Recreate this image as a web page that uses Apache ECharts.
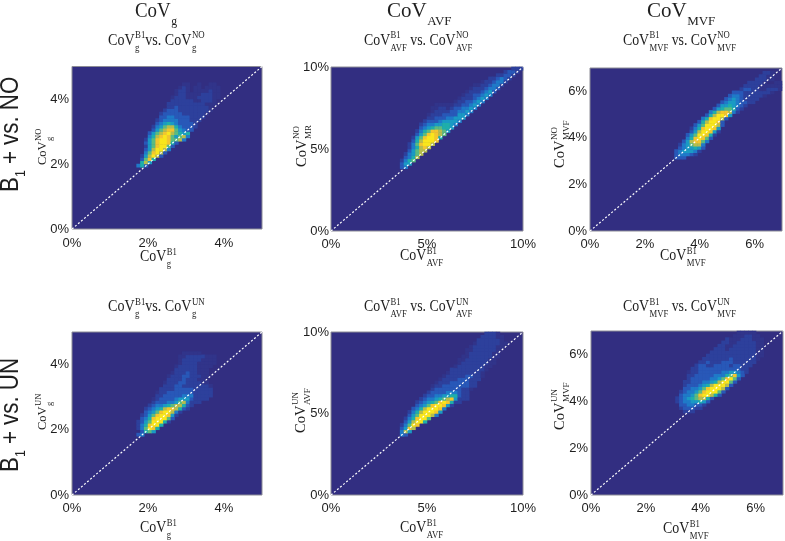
<!DOCTYPE html>
<html>
<head>
<meta charset="utf-8">
<style>html,body{margin:0;padding:0;background:#fff}#c{width:785px;height:541px}</style>
<script src="https://cdn.jsdelivr.net/npm/echarts@6/dist/echarts.min.js"></script>
</head>
<body>
<div id="c"></div>
<script>
// Density estimates. Each row: [y bin, first x bin, density values 0-10]. 50 x 50 bins per panel.
const gNoRows = [
[19,17,[4,6,3]],[20,18,[6,8,5]],[21,18,[3,7,9,6]],[22,18,[2,5,8,10,8,3]],[23,19,[4,7,9,10,8,3]],
[24,19,[3,5,8,10,10,8,4]],[25,19,[2,5,7,9,10,10,7,3]],[26,19,[3,5,7,9,10,10,9,6,3]],
[27,19,[2,5,7,9,10,10,9,7,7,8,4]],[28,20,[4,6,8,9,10,9,7,5,7,8,4]],[29,20,[3,5,7,8,9,10,8,7,6,5,6]],
[30,21,[3,5,7,8,9,9,7,5,4,3,3]],[31,21,[2,4,5,7,8,8,6,4,3,3,3,2]],[32,22,[3,4,5,6,5,4,3,3,3,3,2]],
[33,22,[2,3,4,4,4,4,3,3,3,2,2,2]],[34,23,[3,3,4,4,3,3,3,3,2,2,2,2]],[35,23,[2,3,3,3,3,3,2,2,2,2,2,2,1]],
[36,24,[2,3,3,3,2,2,2,2,2,2,2,2,1]],[37,25,[2,2,3,2,2,2,2,2,2,2,2,1]],[38,25,[2,2,2,2,2,2,2,2,2,2,1,1,1]],
[39,26,[2,2,2,2,2,2,1,1,2,2,2,1]],[40,26,[1,2,2,2,1,1,1,2,2,2,2,1,1]],[41,27,[1,2,2,1,1,1,1,2,2,2,1,1]],
[42,27,[1,2,2,1,0,1,1,1,1,2,1,1]],[43,28,[1,2,1,0,1,1,0,1,1,1,1]],[44,29,[1,1,0,0,1,0,0,1,1]]
];
const avfNoRows = [
[19,18,[3,4]],[20,18,[3,5,5]],[21,18,[2,4,6,7]],[22,19,[3,4,6,8]],[23,19,[2,4,5,7,8]],[24,20,[3,5,7,8,8]],
[25,20,[2,4,6,8,9,8]],[26,20,[2,4,7,9,10,10,8]],[27,21,[3,6,8,10,10,10,9]],[28,21,[2,5,7,9,10,10,9,6]],
[29,22,[3,5,7,9,10,9,8,7]],[30,22,[2,4,6,7,9,9,8,7,5]],[31,23,[3,4,5,6,7,7,6,6,5]],[32,23,[2,3,4,4,5,5,6,6,5,4]],
[33,24,[2,3,3,3,4,5,5,5,5,4]],[34,25,[2,2,3,3,3,4,4,5,5,5]],[35,25,[1,2,2,2,3,3,3,3,5,5,4]],
[36,26,[1,2,2,2,2,3,3,4,4,5,4]],[37,26,[1,1,2,2,1,2,3,3,4,4,5,4]],[38,27,[1,1,1,1,1,2,2,3,3,4,5,4]],
[39,32,[1,2,2,3,3,4,5,4]],[40,33,[1,2,2,2,3,4,5,4]],[41,34,[1,2,2,3,3,4,5,4]],[42,35,[1,2,2,2,3,4,5,3]],
[43,36,[1,2,2,2,3,4,4,3]],[44,37,[1,1,2,2,3,4,4,2]],[45,39,[1,2,2,3,4,4,2]],[46,41,[2,2,3,4,3,2]],
[47,43,[2,2,3,3,2]],[48,45,[2,3,3,2]],[49,47,[2,2,2]]
];
const mvfNoRows = [
[22,22,[3,3,3]],[23,22,[3,4,4,4,3,2]],[24,22,[3,4,5,5,5,4,2]],[25,23,[3,4,5,5,6,5,3]],[26,23,[2,4,5,7,8,8,4]],
[27,24,[3,5,8,9,9,7,4]],[28,25,[4,6,9,10,9,7,3]],[29,25,[3,5,7,10,10,9,6,2]],[30,26,[3,5,8,10,10,9,5,2]],
[31,26,[2,4,6,9,10,10,9,5]],[32,27,[3,5,7,10,10,10,8,3]],[33,28,[3,6,8,10,10,9,3]],[34,29,[4,6,9,10,10,8,3]],
[35,30,[3,6,8,10,10,9,5]],[36,31,[4,6,8,9,9,8,4,2]],[37,32,[3,5,6,7,7,6,3,2]],[38,33,[3,5,5,6,5,4,3,2]],
[39,34,[3,4,5,5,4,3,3,2,2]],[40,35,[3,4,5,4,3,2,2,2,2]],[41,36,[3,4,4,3,2,2,2,2,2,1]],
[42,37,[3,3,3,2,2,2,2,2,2,2,1]],[43,39,[2,3,3,2,2,1,1,2,2,2,1]],[44,40,[2,2,2,2,1,1,1,1,1,1]],
[45,41,[2,2,2,2,1,0,0,1,1]],[46,43,[2,2,2,1,1]],[47,44,[2,2,1,1]],[48,45,[2,2,1]]
];
const gUnRows = [
[18,17,[3,4]],[19,18,[3,6,7,5]],[20,17,[2,4,7,10,9,6]],[21,17,[2,4,6,9,10,10,6]],[22,17,[2,3,5,7,10,10,10,6,2]],
[23,18,[3,4,6,9,10,10,10,7,3]],[24,18,[2,3,5,7,9,10,10,9,5,2]],[25,19,[3,4,5,7,9,10,10,8,4,2]],
[26,19,[2,3,4,5,6,8,9,9,8,6,3,2]],[27,20,[2,3,4,4,5,6,7,8,8,6,3,2]],[28,21,[2,3,3,3,4,4,5,7,8,4,2,2,2]],
[29,21,[1,2,3,3,3,3,4,5,5,5,3,2,2,2,2]],[30,22,[2,2,3,3,3,3,3,4,4,4,2,2,2,2,2]],[31,22,[1,2,2,3,3,3,3,3,3,3,2,2,2,2,2]],
[32,23,[2,2,2,2,3,3,3,3,3,2,2,2,2,2]],[33,24,[2,2,2,3,3,2,2,2,2,2,2,2,1]],[34,24,[1,2,2,2,3,3,2,2,2,2,1,1]],
[35,25,[2,2,2,2,3,2,2,2,1,1]],[36,25,[1,2,2,2,3,3,2,2,2,1,1]],[37,26,[1,2,2,2,3,2,2,1,1,1]],[38,27,[2,2,2,2,2,2,1,1,1]],
[39,27,[1,2,2,2,2,2,1,1,1,1]],[40,28,[1,2,2,2,2,1,1,1,1,1]],[41,28,[1,2,2,2,2,2,1,1,1,1]],[42,28,[1,1,2,2,2,2,2,1,1,1]],
[43,29,[1,1,1,1,1]]
];
const avfUnRows = [
[18,18,[4,3]],[19,18,[4,8,5]],[20,18,[3,5,9,8]],[21,18,[2,4,7,10,9]],[22,19,[3,5,8,10,10,6]],[23,19,[2,4,6,9,10,10,7]],
[24,20,[3,5,7,10,10,10,8,4]],[25,20,[2,4,6,8,10,10,10,9,5]],[26,21,[3,4,6,8,10,10,10,9,4]],[27,22,[3,4,5,7,9,10,10,9,5,2]],
[28,22,[2,3,4,5,6,7,9,10,9,6,2,2]],[29,23,[2,3,4,4,5,6,7,8,9,5,2,2,2]],[30,24,[2,3,3,4,4,5,5,6,6,3,2,2]],
[31,25,[2,3,3,3,3,4,4,4,3,2,2]],[32,26,[2,3,3,3,3,3,3,3,2,2,1]],[33,26,[1,2,2,3,3,3,3,3,3,3,2,2]],[34,27,[1,2,2,2,3,3,3,3,3,2,2]],
[35,28,[1,2,2,2,2,3,3,3,2,2,2]],[36,29,[1,2,2,2,2,2,3,3,2,2,1]],[37,30,[1,2,2,2,2,2,2,2,2,1]],[38,31,[2,2,2,2,2,2,2,2,2,1]],
[39,32,[1,2,2,2,2,2,2,2,1,1]],[40,33,[1,2,2,2,2,2,2,2,1,1]],[41,33,[1,1,2,2,2,2,2,2,1,1]],[42,34,[1,1,2,2,2,2,2,2,1,1]],
[43,35,[1,2,2,2,2,2,2,1,1]],[44,35,[1,1,2,2,2,2,2,2,1]],[45,36,[1,2,2,2,2,2,2,1,1]],[46,37,[1,2,2,2,2,2,2,1,1]],
[47,38,[2,2,2,2,2,2,1]],[48,39,[2,2,2,2,1,1]],[49,40,[2,2,2,1]]
];
const mvfUnRows = [
[25,24,[2,2,2]],[26,23,[2,3,3,3,2,2]],[27,23,[3,3,4,4,3,3,2]],[28,22,[2,3,4,4,5,5,6,5,3]],[29,22,[2,3,4,5,6,7,8,8,6,3]],
[30,23,[3,4,4,5,7,9,10,10,8,6,3]],[31,23,[2,3,4,4,5,7,9,10,10,10,7,3]],[32,24,[3,3,4,4,5,7,9,10,10,10,8,3]],
[33,24,[2,3,3,3,4,5,6,8,10,10,10,8,3]],[34,24,[2,2,3,3,3,4,4,5,6,8,10,10,7,3]],[35,25,[2,3,3,3,3,3,4,4,5,7,9,10,7,3]],
[36,25,[2,2,3,3,3,3,3,4,4,4,6,7,9,5,3]],[37,25,[1,2,2,3,3,3,3,3,3,4,4,5,5,4,3,2]],[38,26,[2,2,3,3,3,3,3,3,3,3,3,3,3,2,2]],
[39,27,[2,3,3,2,2,3,3,3,3,2,3,3,2,2,2]],[40,28,[2,2,3,2,2,2,3,3,3,2,2,2,2,2,2]],[41,29,[2,2,2,2,2,2,2,3,2,2,2,2,2,2,1]],
[42,30,[2,2,2,2,2,2,2,2,2,2,2,2,2,1,1]],[43,31,[2,2,2,2,2,2,2,2,2,2,2,2,1,1]],[44,32,[2,2,2,1,2,2,2,2,2,2,2,1,1]],
[45,33,[2,2,1,1,2,2,2,2,2,2,1,1]],[46,34,[2,2,1,1,2,2,2,2,2,1,1]],[47,35,[2,1,1,1,2,2,2,1,1,1]],[48,37,[1,1,1,2,2,1,1]],[49,38,[1,1,1,1,1]]
];
const ticksG = [0,2,4];
const ticksAvf = [0,5,10];
const ticksMvf = [0,2,4,6];

const FONT_SERIF = '"Liberation Serif", serif';
const FONT_SANS = '"Liberation Sans", Arial, sans-serif';
const INK = '#1f1f1f';
const PARULA = ['#322e81','#31348a','#2d409c','#2858b8','#1f7ac8','#1a9ac4','#1faeaa','#5cbb80','#b5bd4e','#f2c62e','#f9e61c'];
const binIndex = Array.from({length:50},(_,i)=>i);

const panels = [
  {rows:gNoRows,  max:5, ticks:ticksG,  left:72, top:66.5,w:190,h:162.5,mx:8,my:3},
  {rows:avfNoRows,max:10,ticks:ticksAvf,left:331,top:67,w:192,h:164,mx:7,my:2},
  {rows:mvfNoRows,max:7, ticks:ticksMvf,left:590,top:68,w:192,h:163,mx:7,my:3},
  {rows:gUnRows,  max:5, ticks:ticksG,  left:72, top:332,w:190,h:163,mx:7,my:3},
  {rows:avfUnRows,max:10,ticks:ticksAvf,left:331,top:332,w:192,h:163,mx:7,my:2},
  {rows:mvfUnRows,max:7, ticks:ticksMvf,left:591,top:331,w:192,h:164,mx:7,my:3}
];

const grid=[],xAxis=[],yAxis=[],series=[],lines=[];
panels.forEach((p,i)=>{
  grid.push({left:p.left,top:p.top,width:p.w,height:p.h,show:true,backgroundColor:PARULA[0],borderColor:'#8c8c96',borderWidth:1,containLabel:false});
  const hide={show:false};
  xAxis.push({type:'category',gridIndex:i,data:binIndex,axisLabel:hide,axisLine:hide,axisTick:hide,splitLine:hide});
  yAxis.push({type:'category',gridIndex:i,data:binIndex,axisLabel:hide,axisLine:hide,axisTick:hide,splitLine:hide});
  const fmt=v=>v+'%';
  const lab=m=>({fontSize:13,fontFamily:FONT_SANS,color:INK,margin:m,formatter:fmt,customValues:p.ticks,hideOverlap:false});
  xAxis.push({type:'value',gridIndex:i,min:0,max:p.max,position:'bottom',axisLine:hide,axisTick:hide,splitLine:hide,axisLabel:lab(p.mx)});
  yAxis.push({type:'value',gridIndex:i,min:0,max:p.max,position:'left',axisLine:hide,axisTick:hide,splitLine:hide,axisLabel:lab(p.my)});
  const cells=[];
  p.rows.forEach(([y,x0,vals])=>vals.forEach((v,k)=>{ if(v>0) cells.push([x0+k,y,v]); }));
  series.push({type:'heatmap',xAxisIndex:2*i,yAxisIndex:2*i,data:cells,silent:true,progressive:0,animation:false,emphasis:{disabled:true},itemStyle:{borderWidth:0}});
  lines.push({type:'line',xAxisIndex:2*i+1,yAxisIndex:2*i+1,data:[[0,0],[p.max,p.max]],symbol:'none',silent:true,animation:false,z:5,lineStyle:{color:'#ffffff',width:1.2,type:[2,2]}});
});

// Text composer: CoV with stacked super/subscript
const mctx=document.createElement('canvas').getContext('2d');
function tw(t,size,fam){mctx.font=size+'px '+fam;return mctx.measureText(t).width;}
function txt(t,x,y,size,fam){return {type:'text',x,y,silent:true,style:{text:t,x:0,y:0,fontSize:size,fontFamily:fam,fill:INK,align:'left',verticalAlign:'middle'}};}
function cov(parts,cfg){
  const kids=[];let x=0;
  parts.forEach(pt=>{
    if(typeof pt==='string'){kids.push(txt(pt,x,0,cfg.size,FONT_SERIF));x+=tw(pt,cfg.size,FONT_SERIF);return;}
    kids.push(txt('CoV',x,0,cfg.size,FONT_SERIF));x+=tw('CoV',cfg.size,FONT_SERIF)+0.5;
    let w=0;
    if(pt.sup){kids.push(txt(pt.sup,x,cfg.supY,cfg.small,FONT_SERIF));w=Math.max(w,tw(pt.sup,cfg.small,FONT_SERIF));}
    if(pt.sub){kids.push(txt(pt.sub,x,cfg.subY,cfg.subSize||cfg.small,FONT_SERIF));w=Math.max(w,tw(pt.sub,cfg.subSize||cfg.small,FONT_SERIF));}
    x+=w;
  });
  return kids;
}
const graphics=[];
function place(x,y,kids,rot,sx){graphics.push({type:'group',x,y,rotation:rot||0,scaleX:sx||1,silent:true,children:kids});}

// Main headings
const bigCfg={size:21,small:13,supY:-7,subY:11};
place(135,11,cov([{sub:'g'}],bigCfg),0,0.9);
place(387,11,cov([{sub:'AVF'}],bigCfg));
place(647,11,cov([{sub:'MVF'}],bigCfg));

// Sub headings
const subCfg={size:16,small:10,supY:-5,subY:7.5};
[[108,40.5,'g','NO','vs. ',0.88],[364,40.5,'AVF','NO',' vs. ',0.865],[623,40.5,'MVF','NO',' vs. ',0.863],
 [108,307,'g','UN','vs. ',0.88],[364,307,'AVF','UN',' vs. ',0.865],[623,307,'MVF','UN',' vs. ',0.863]].forEach(([x,y,s,top,vs,sx])=>{
  place(x,y,cov([{sup:'B1',sub:s},vs,{sup:top,sub:s}],subCfg),0,sx);
});

// x-axis names
[[140,257,'g'],[400,256,'AVF'],[660,256,'MVF'],[140,528,'g'],[400,528,'AVF'],[663,529,'MVF']].forEach(([x,y,s])=>{
  place(x,y,cov([{sup:'B1',sub:s}],subCfg),0,0.87);
});

// y-axis names
const yName12={size:12.5,small:8.5,supY:-4.5,subY:6.5};
const yName15={size:14.5,small:9,supY:-5,subY:6.5};
place(43,165,cov([{sup:'NO',sub:'g'}],yName12),Math.PI/2);
place(302,167,cov([{sup:'NO',sub:'MR'}],yName15),Math.PI/2);
place(560,168,cov([{sup:'NO',sub:'MVF'}],yName15),Math.PI/2);
place(43,430,cov([{sup:'UN',sub:'g'}],yName12),Math.PI/2);
place(301,433,cov([{sup:'UN',sub:'AVF'}],yName15),Math.PI/2);
place(560,430,cov([{sup:'UN',sub:'MVF'}],yName15),Math.PI/2);

// Row labels
function rowLabel(yBottom,rest){
  const s=25.5, sub=14;
  const b=tw('B',s,FONT_SANS), o=tw('1',sub,FONT_SANS);
  place(11,yBottom,[txt('B',0,0,s,FONT_SANS),txt('1',b,10,sub,FONT_SANS),txt(rest,b+o,0,s,FONT_SANS)],Math.PI/2,0.875);
}
rowLabel(192,' + vs. NO');
rowLabel(472,' + vs. UN');

const chart=echarts.init(document.getElementById('c'),null,{renderer:'canvas'});
chart.setOption({
  animation:false,
  backgroundColor:'#ffffff',
  tooltip:{show:false},
  grid,xAxis,yAxis,
  visualMap:{show:false,type:'continuous',min:0,max:10,dimension:2,seriesIndex:[0,1,2,3,4,5],inRange:{color:PARULA}},
  series:series.concat(lines),
  graphic:{elements:graphics}
});
</script>
</body>
</html>
